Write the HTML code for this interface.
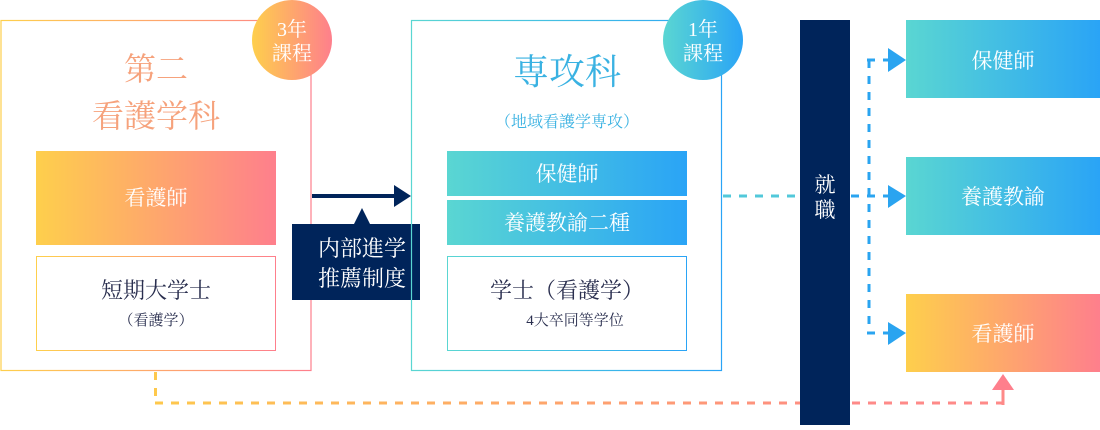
<!DOCTYPE html>
<html><head><meta charset="utf-8"><style>
body{margin:0;width:1100px;height:425px;background:#fff;overflow:hidden;font-family:"Liberation Serif","Noto Serif CJK SC",serif;}
</style></head><body>
<svg width="1100" height="425" viewBox="0 0 1100 425" xmlns="http://www.w3.org/2000/svg" font-family="'Liberation Serif','Noto Serif CJK SC',serif">
<defs>
<linearGradient id="warm" x1="0" x2="1" y1="0" y2="0"><stop offset="0" stop-color="#fecf4c"/><stop offset="1" stop-color="#fe7f8c"/></linearGradient>
<linearGradient id="cool" x1="0" x2="1" y1="0" y2="0"><stop offset="0" stop-color="#5ad6d2"/><stop offset="1" stop-color="#2aa4f6"/></linearGradient>
<linearGradient id="dashw" gradientUnits="userSpaceOnUse" x1="155" x2="800" y1="0" y2="0"><stop offset="0" stop-color="#fec84c"/><stop offset="1" stop-color="#fe8f80"/></linearGradient>
</defs>
<!-- left box -->
<rect x="1" y="20.5" width="310" height="350" fill="none" stroke="url(#warm)" stroke-width="1.2"/>
<circle cx="292" cy="40" r="40" fill="url(#warm)"/>
<text x="292" y="36" fill="#fff" font-size="20" text-anchor="middle">3年</text>
<text x="292" y="60" fill="#fff" font-size="20" text-anchor="middle">課程</text>
<text x="156" y="80" fill="#f6a27c" font-size="32" text-anchor="middle">第二</text>
<text x="156" y="127" fill="#f6a27c" font-size="32" text-anchor="middle">看護学科</text>
<rect x="36" y="151" width="240" height="94" fill="url(#warm)"/>
<text x="156" y="205" fill="#fff" font-size="21" text-anchor="middle">看護師</text>
<rect x="36.5" y="256.5" width="239" height="94" fill="none" stroke="url(#warm)" stroke-width="1"/>
<text x="156" y="298" fill="#2a2f4f" font-size="22" text-anchor="middle">短期大学士</text>
<text x="156" y="325" fill="#2a2f4f" font-size="15" text-anchor="middle">（看護学）</text>
<!-- arrow -->
<rect x="312" y="194" width="84" height="4" fill="#00245a"/>
<polygon points="394,185 411,196 394,207" fill="#00245a"/>
<polygon points="362,208 354,224 370,224" fill="#00245a"/>
<rect x="292" y="224" width="128" height="76" fill="#00245a"/>
<text x="362" y="256" fill="#fff" font-size="22" text-anchor="middle">内部進学</text>
<text x="362" y="286" fill="#fff" font-size="22" text-anchor="middle">推薦制度</text>
<!-- right box -->
<rect x="411.5" y="20.5" width="310" height="350" fill="none" stroke="url(#cool)" stroke-width="1.2"/>
<circle cx="703" cy="40" r="40" fill="url(#cool)"/>
<text x="703" y="36" fill="#fff" font-size="20" text-anchor="middle">1年</text>
<text x="703" y="60" fill="#fff" font-size="20" text-anchor="middle">課程</text>
<text x="567" y="84" fill="#3ab2e2" font-size="36" text-anchor="middle">専攻科</text>
<text x="567" y="127" fill="#3ab2e2" font-size="16" text-anchor="middle">（地域看護学専攻）</text>
<rect x="447" y="151" width="240" height="45" fill="url(#cool)"/>
<text x="567" y="181" fill="#fff" font-size="21" text-anchor="middle">保健師</text>
<rect x="447" y="200" width="240" height="45" fill="url(#cool)"/>
<text x="567" y="230" fill="#fff" font-size="21" text-anchor="middle">養護教諭二種</text>
<rect x="447.5" y="256.5" width="239" height="94" fill="none" stroke="url(#cool)" stroke-width="1"/>
<text x="567" y="298" fill="#2a2f4f" font-size="22" text-anchor="middle">学士（看護学）</text>
<text x="575" y="325" fill="#2a2f4f" font-size="15" text-anchor="middle">4大卒同等学位</text>
<line x1="723" y1="196" x2="800" y2="196" stroke="#52c8da" stroke-width="3" stroke-dasharray="8,8"/>
<!-- shushoku -->
<rect x="800" y="20" width="50" height="405" fill="#00245a"/>
<text x="825" y="192" fill="#fff" font-size="21" text-anchor="middle">就</text>
<text x="825" y="217" fill="#fff" font-size="21" text-anchor="middle">職</text>
<!-- blue dashes -->
<line x1="851" y1="196" x2="890" y2="196" stroke="#2aa4f0" stroke-width="3" stroke-dasharray="8,8"/>
<line x1="869" y1="60" x2="869" y2="333" stroke="#2aa4f0" stroke-width="3" stroke-dasharray="8,8"/>
<line x1="867" y1="60" x2="890" y2="60" stroke="#2aa4f0" stroke-width="3" stroke-dasharray="8,8"/>
<line x1="867" y1="333" x2="890" y2="333" stroke="#2aa4f0" stroke-width="3" stroke-dasharray="8,8"/>
<polygon points="888,48 906,60 888,72" fill="#2aa4f0"/>
<polygon points="888,185 906,196 888,208" fill="#2aa4f0"/>
<polygon points="888,322 906,333 888,345" fill="#2aa4f0"/>
<!-- right boxes -->
<rect x="906" y="20" width="194" height="78" fill="url(#cool)"/>
<text x="1003" y="68" fill="#fff" font-size="21" text-anchor="middle">保健師</text>
<rect x="906" y="157" width="194" height="78" fill="url(#cool)"/>
<text x="1003" y="204" fill="#fff" font-size="21" text-anchor="middle">養護教諭</text>
<rect x="906" y="294" width="194" height="78" fill="url(#warm)"/>
<text x="1003" y="341" fill="#fff" font-size="21" text-anchor="middle">看護師</text>
<!-- bottom dashes -->
<line x1="155.5" y1="372" x2="155.5" y2="403" stroke="#fec84c" stroke-width="3" stroke-dasharray="8,8"/>
<line x1="155" y1="403" x2="800" y2="403" stroke="url(#dashw)" stroke-width="3" stroke-dasharray="8,8"/>
<line x1="852" y1="403" x2="1004" y2="403" stroke="#fe8a88" stroke-width="3" stroke-dasharray="8,8"/>
<line x1="1003" y1="390" x2="1003" y2="405" stroke="#fe8a88" stroke-width="3"/>
<polygon points="1003,374 992,390 1014,390" fill="#fe7f8c"/>
</svg>
</body></html>
